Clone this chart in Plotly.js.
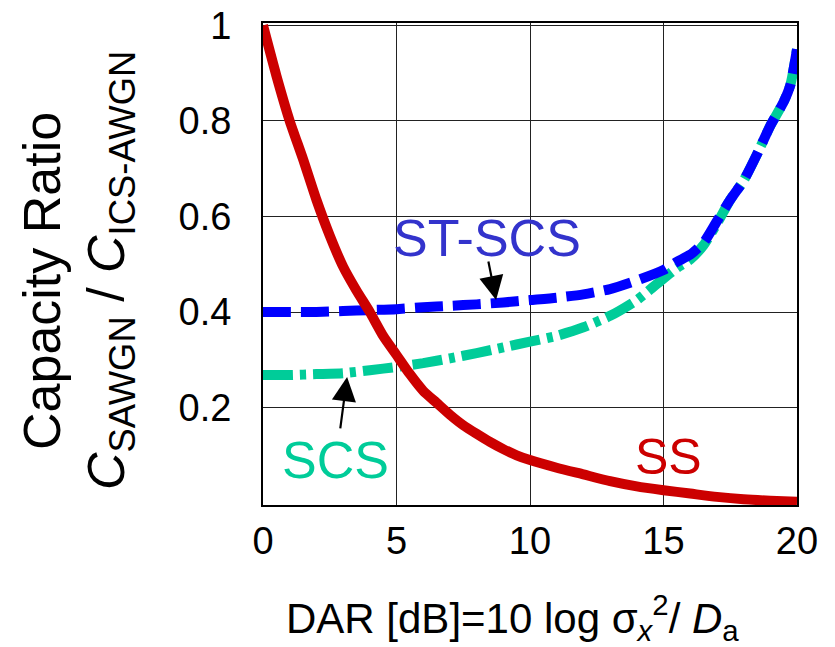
<!DOCTYPE html>
<html>
<head>
<meta charset="utf-8">
<script src="https://cdn.plot.ly/plotly-3.0.1.min.js"></script>
<style>html,body{margin:0;padding:0;background:#fff;}#chart{width:835px;height:647px;}</style>
</head>
<body>
<div id="chart"></div>
<script>
// DAR [dB]
const ssX   = [0,0.5,1,1.5,2,2.5,3,3.5,4,4.5,5,5.5,6,6.5,7,7.5,8,8.5,9,9.5,10,11,12,13,14,15,16,17,18,19,20];
const ssY   = [1.0,0.895,0.80,0.72,0.635,0.56,0.495,0.445,0.40,0.35,0.31,0.27,0.235,0.21,0.185,0.163,0.145,0.128,0.113,0.10,0.09,0.074,0.06,0.046,0.035,0.027,0.02,0.013,0.008,0.005,0.003];
const scsX  = [0,1,2,3,4,5,6,7,8,9,10,11,12,13,14,15,15.5,16,16.5,17,17.5,18,18.5,19,19.5,19.75,20];
const scsY  = [0.268,0.268,0.27,0.272,0.278,0.285,0.293,0.303,0.314,0.326,0.338,0.35,0.368,0.392,0.425,0.47,0.492,0.51,0.54,0.585,0.635,0.675,0.73,0.79,0.84,0.875,0.95];
const stX   = [0,1,2,3,4,5,6,7,8,9,10,11,12,13,14,15,15.5,16,16.5,17,17.5,18,18.5,19,19.5,19.75,20];
const stY   = [0.40,0.40,0.40,0.402,0.404,0.406,0.41,0.413,0.416,0.42,0.425,0.43,0.437,0.448,0.466,0.488,0.505,0.52,0.545,0.59,0.635,0.675,0.73,0.79,0.84,0.875,0.95];
const yTickVals = [0.2,0.4,0.6,0.8,1];
const yTickText = ['0.2','0.4','0.6','0.8','1'];
const xTickVals = [0,5,10,15,20];
const xTickText = ['0','5','10','15','20'];

const FONT = 'Arial, "Liberation Sans", sans-serif';

const traces = [
  {x: scsX, y: scsY, mode: 'lines', name: 'SCS',
   line: {color: '#00CC99', width: 10, dash: '30px,7px,6px,7px', shape: 'spline', smoothing: 0.6}},
  {x: stX, y: stY, mode: 'lines', name: 'ST-SCS',
   line: {color: '#0000FF', width: 10, dash: '28px,10px', shape: 'spline', smoothing: 0.6}},
  {x: ssX, y: ssY, mode: 'lines', name: 'SS',
   line: {color: '#CC0000', width: 10, shape: 'spline', smoothing: 0.6}}
];

const layout = {
  width: 835, height: 647,
  margin: {l: 263, r: 38, t: 23, b: 142},
  paper_bgcolor: '#fff', plot_bgcolor: '#fff',
  showlegend: false,
  font: {family: FONT, color: '#000'},
  xaxis: {
    range: [0, 20], tickvals: xTickVals, ticktext: xTickText,
    showgrid: true, gridcolor: '#222', gridwidth: 1,
    zeroline: false, showline: true, linecolor: '#000', linewidth: 2, mirror: true,
    ticks: '', ticklabelstandoff: 1,
    tickfont: {family: FONT, size: 38, color: '#000'}
  },
  yaxis: {
    range: [-0.004, 1.005], tickvals: yTickVals, ticktext: yTickText,
    showgrid: true, gridcolor: '#222', gridwidth: 1,
    zeroline: false, showline: true, linecolor: '#000', linewidth: 2, mirror: true,
    ticks: '', ticklabelstandoff: 22,
    tickfont: {family: FONT, size: 38, color: '#000'}
  },
  annotations: [
    {xref: 'paper', yref: 'paper', x: (42-263)/534, y: (505-281)/482, xanchor: 'center', yanchor: 'middle',
     text: 'Capacity Ratio', textangle: -90, showarrow: false,
     font: {family: FONT, size: 52, color: '#000'}},
    {xref: 'paper', yref: 'paper', x: (110-263)/534, y: (505-271)/482, xanchor: 'center', yanchor: 'middle',
     text: '<i>C</i><sub>SAWGN</sub> / <i>C</i><sub>ICS-AWGN</sub>', textangle: -90, showarrow: false,
     font: {family: FONT, size: 52, color: '#000'}},
    {xref: 'paper', yref: 'paper', x: (512-263)/534, y: (505-617)/482, xanchor: 'center', yanchor: 'middle',
     text: 'DAR [dB]=10 log σ<sub><i>x</i></sub><sup>2</sup>/ <i>D</i><sub>a</sub>', showarrow: false,
     font: {family: FONT, size: 42, color: '#000'}},
    {x: 8.39, y: 0.555, xref: 'x', yref: 'y', text: 'ST-SCS', showarrow: false,
     font: {family: FONT, size: 52, color: '#3333CC'}},
    {x: 2.73, y: 0.09, xref: 'x', yref: 'y', text: 'SCS', showarrow: false,
     font: {family: FONT, size: 52, color: '#00CC99'}},
    {x: 15.17, y: 0.096, xref: 'x', yref: 'y', text: 'SS', showarrow: false,
     font: {family: FONT, size: 50, color: '#CC0000'}},
    {x: 8.73, y: 0.425, xref: 'x', yref: 'y', text: '', showarrow: true,
     ax: -8, ay: -40, arrowhead: 2, arrowsize: 2.2, arrowwidth: 2.2, arrowcolor: '#000'},
    {x: 3.15, y: 0.264, xref: 'x', yref: 'y', text: '', showarrow: true,
     ax: -7, ay: 53, arrowhead: 2, arrowsize: 2.2, arrowwidth: 2.2, arrowcolor: '#000'}
  ]
};

Plotly.newPlot('chart', traces, layout, {staticPlot: true, displayModeBar: false});
</script>
</body>
</html>
